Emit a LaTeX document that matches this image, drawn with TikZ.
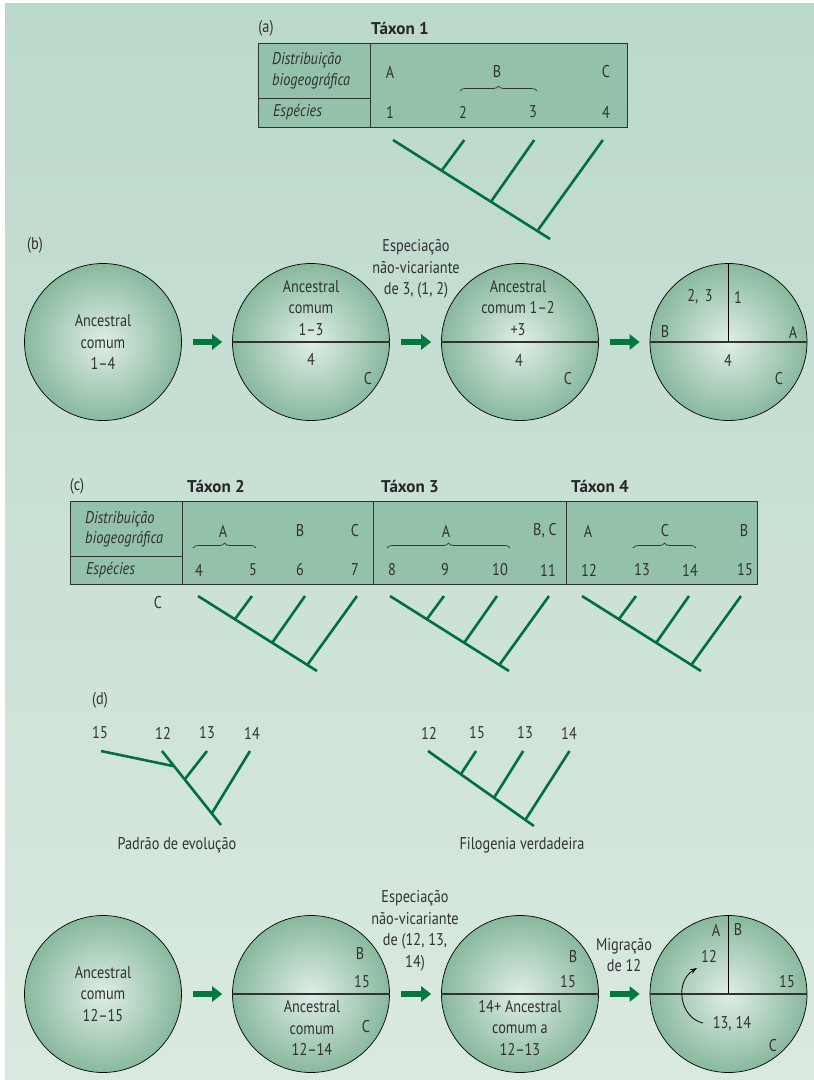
\documentclass[tikz,border=0pt]{standalone}
\usepackage{fontspec}
\setmainfont{PT Sans}[FakeStretch=0.84]
\newfontfamily\headfont{PT Sans}
\usetikzlibrary{arrows.meta,decorations.pathreplacing,positioning}

\definecolor{bgtop}{RGB}{187,217,203}
\definecolor{bgbot}{RGB}{218,233,223}
\definecolor{tabfill}{RGB}{147,193,169}
\definecolor{treegreen}{RGB}{0,112,60}
\definecolor{arrowgreen}{RGB}{0,120,62}
\definecolor{globein}{RGB}{224,238,230}
\definecolor{globeout}{RGB}{136,185,157}
\definecolor{inkgrey}{RGB}{50,50,50}

% one cladogram, four tips along the top
\newcommand{\cladetree}{%
  \draw[tree] (0,0) -- (119,75);
  \draw[tree] (54,0) -- (37,23);
  \draw[tree] (107,0) -- (74,47);
  \draw[tree] (159,0) -- (110,68);
}

\begin{document}
\begin{tikzpicture}[x=1pt, y=-1pt,
  font=\fontsize{17}{21.5}\selectfont,
  every node/.style={inner sep=0pt, text=inkgrey},
  tree/.style={treegreen, line width=2.6pt},
  bigarrow/.style={arrowgreen, line width=6.5pt, -{Triangle[length=10pt,width=15pt]}, shorten <=11pt, shorten >=10pt},
  globe/.style={circle, draw=black, line width=0.7pt, inner color=globein, outer color=globeout, minimum size=157pt},
  split/.style={draw=inkgrey, line width=1.2pt},
  tabbox/.style={fill=tabfill, draw=inkgrey, line width=0.8pt},
  brace/.style={draw=inkgrey, line width=0.7pt, decorate, decoration={brace, amplitude=5pt}},
  head/.style={font=\headfont\fontsize{17}{21.5}\selectfont\bfseries, text=black!85},
  rowlbl/.style={anchor=west, align=left, font=\fontsize{17}{20.5}\selectfont\itshape},
  multi/.style={align=center},
]

% Background
\fill[white] (0,0) rectangle (814,1080);
\shade[top color=bgtop, bottom color=bgbot] (5,3) rectangle (814,1080);

% ---------------- (a) ----------------
\node (parta) at (266,28) {(a)};
\node[head] (tax1) at (400,28) {Táxon 1};

% Draw table
\draw[tabbox] (258,43) rectangle (627,127);
\draw[inkgrey, line width=0.8pt] (370,43) -- (370,127);
\draw[inkgrey, line width=0.8pt] (258,98) -- (370,98);
\node[rowlbl] (adist) at (272,70.5) {Distribuição\\biogeográfica};
\node[rowlbl] (aspec) at (273,112) {Espécies};
\node (aA) at (390,72) {A};
\node (aB) at (497,72) {B};
\node (aC) at (606,72) {C};
\draw[brace] (460,91) -- (537,91);
\node (a1) at (390,112) {1};
\node (a2) at (463,112) {2};
\node (a3) at (533,112) {3};
\node (a4) at (606,112) {4};

% Draw tree
\begin{scope}[shift={(393,140)}, scale=1.32]
  \cladetree
\end{scope}

% ---------------- (b) ----------------
\node (partb) at (35,245) {(b)};

\node[globe] (b1) at (103,342) {};
\node[globe] (b2) at (311,342) {};
\node[globe] (b3) at (520,342) {};
\node[globe] (b4) at (728.5,342) {};

\draw[split] (b2.west) -- (b2.east);
\draw[split] (b3.west) -- (b3.east);
\draw[split] (b4.west) -- (b4.east);
\draw[black, line width=1pt] (b4.north) -- (b4.center);

\node[multi] (b1txt) at (103,342) {Ancestral\\comum\\1–4};
\node[multi] (b2txt) at (311,308) {Ancestral\\comum\\1–3};
\node (b2four) at (311,359) {4};
\node (b2C) at (368,379) {C};
\node[multi] (b3txt) at (518,308) {Ancestral\\comum 1–2\\+3};
\node (b3four) at (519,360) {4};
\node (b3C) at (568,379) {C};
\node (b4sp) at (700,297) {2,\,  3};
\node (b4one) at (738,297) {1};
\node (b4B) at (665,332) {B};
\node (b4A) at (793,332) {A};
\node (b4four) at (728,360) {4};
\node (b4C) at (779,379) {C};

\node[multi] (bspec) at (416,269) {Especiação\\não-vicariante\\de 3, (1, 2)};

\draw[bigarrow] (b1) -- (b2);
\draw[bigarrow] (b2) -- (b3);
\draw[bigarrow] (b3) -- (b4);

% ---------------- (c) ----------------
\node (partc) at (77,486) {(c)};
\node[head] (tax2) at (216,486) {Táxon 2};
\node[head] (tax3) at (410,486) {Táxon 3};
\node[head] (tax4) at (600,486) {Táxon 4};

% Draw table
\draw[tabbox] (70,501) rectangle (757,584);
\foreach \xs in {182,373,566}
  \draw[inkgrey, line width=0.8pt] (\xs,501) -- (\xs,584);
\draw[inkgrey, line width=0.8pt] (70,556) -- (182,556);
\node[rowlbl] (cdist) at (85,529) {Distribuição\\biogeográfica};
\node[rowlbl] (cspec) at (86,570) {Espécies};

% Táxon 2
\node (c2A) at (223,531) {A};
\node (c2B) at (300,531) {B};
\node (c2C) at (355,531) {C};
\draw[brace] (193,548) -- (256,548);
% Táxon 3
\node (c3A) at (446,531) {A};
\node (c3BC) at (545,531) {B, C};
\draw[brace] (387,548) -- (510,548);
% Táxon 4
\node (c4A) at (588,531) {A};
\node (c4C) at (665,531) {C};
\node (c4B) at (744,531) {B};
\draw[brace] (633,548) -- (696,548);

% species numbers
\foreach \n/\xs in {4/199, 5/253, 6/300, 7/355, 8/392, 9/445, 10/500, 11/548, 12/589, 13/642, 14/690, 15/745}
  \node (sp\n) at (\xs,570) {\n};

\node (cC) at (158,603) {C};

% Draw trees
\begin{scope}[shift={(198,596)}]
  \cladetree
\end{scope}
\begin{scope}[shift={(390,596)}]
  \cladetree
\end{scope}
\begin{scope}[shift={(582,596)}]
  \cladetree
\end{scope}

% ---------------- (d) ----------------
\node (partd) at (100,700) {(d)};

% Padrão de evolução
\node (dl15) at (100,733) {15};
\node (dl12) at (163,733) {12};
\node (dl13) at (207,733) {13};
\node (dl14) at (252,733) {14};
\draw[tree] (101,751) -- (173,766);
\draw[tree] (162,751) -- (221,825);
\draw[tree] (207,751) -- (185,779);
\draw[tree] (250,751) -- (212,813);
\node (dlcap) at (177,845) {Padrão de evolução};

% Filogenia verdadeira
\node (dr12) at (429,733) {12};
\node (dr15) at (477,733) {15};
\node (dr13) at (525,733) {13};
\node (dr14) at (569,733) {14};
\begin{scope}[shift={(428,751)}, xscale=0.89]
  \cladetree
\end{scope}
\node (drcap) at (522,845) {Filogenia verdadeira};

% ---------------- bottom row ----------------
\node[globe] (e1) at (103,994) {};
\node[globe] (e2) at (311,994) {};
\node[globe] (e3) at (520,994) {};
\node[globe] (e4) at (728.5,994) {};

\draw[split] (e2.west) -- (e2.east);
\draw[split] (e3.west) -- (e3.east);
\draw[split] (e4.west) -- (e4.east);
\draw[black, line width=1pt] (e4.north) -- (e4.center);

\node[multi] (e1txt) at (103,994) {Ancestral\\comum\\12–15};
\node (e2B) at (360,954) {B};
\node (e2fif) at (362,982) {15};
\node[multi] (e2txt) at (312,1028) {Ancestral\\comum\\12–14};
\node (e2C) at (366,1027) {C};
\node (e3B) at (573,957) {B};
\node (e3fif) at (568,982) {15};
\node[multi] (e3txt) at (520,1028) {14+ Ancestral\\comum a\\12–13};
\node (e4A) at (716,930) {A};
\node (e4B) at (738,930) {B};
\node (e4twelve) at (709,956) {12};
\node (e4fif) at (787,982) {15};
\node (e4rest) at (732,1024) {13, 14};
\node (e4C) at (773,1046) {C};

\node[multi] (espec) at (415,931) {Especiação\\não-vicariante\\de (12, 13,\\14)};
\node[multi] (emig) at (624,955) {Migração\\de 12};

\draw[bigarrow] (e1) -- (e2);
\draw[bigarrow] (e2) -- (e3);
\draw[bigarrow] (e3) -- (e4);

% Draw migration arrow
\coordinate (migfrom) at (703,1023);
\coordinate (migto) at (697,968);
\draw[black, line width=0.8pt, -{Stealth[length=7pt,width=5pt]}] (migfrom) .. controls (680,1018) and (674,982) .. (migto);

\end{tikzpicture}
\end{document}
